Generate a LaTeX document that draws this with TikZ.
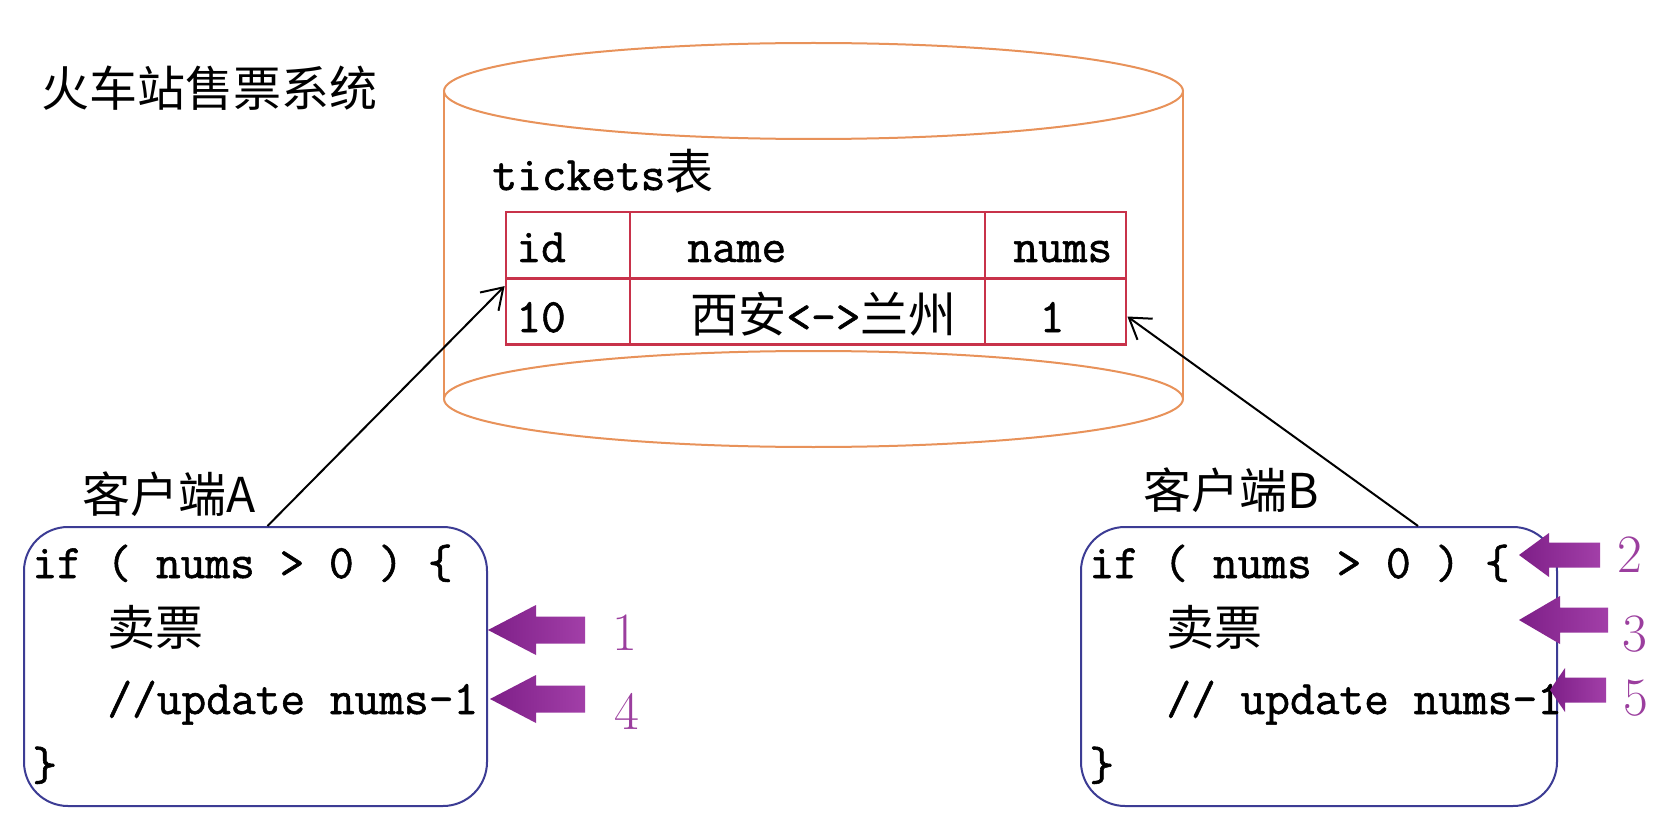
\documentclass[tikz,border=0pt]{standalone}
\usepackage{fontspec}
\newfontfamily\cjk{Noto Sans CJK SC}
\newfontfamily\codefont{Latin Modern Mono}[FakeBold=1.2]
\usetikzlibrary{arrows.meta,calc}
\definecolor{cylc}{HTML}{E8925A}
\definecolor{tblc}{HTML}{C8324A}
\definecolor{boxc}{HTML}{3C3C94}
\definecolor{purdark}{HTML}{7E1F88}
\definecolor{purlight}{HTML}{A23FA8}
\definecolor{lblc}{HTML}{9B3E9E}
\newcommand\blockarrow[7]{% tipx tipy headx tailx headhalf shafthalf name
  \shade[left color=purdark,right color=purlight] (#1,#2) -- (#3,#2-#5) -- (#3,#2-#6) -- (#4,#2-#6) -- (#4,#2+#6) -- (#3,#2+#6) -- (#3,#2+#5) -- cycle;
  \coordinate (#7) at (#1,#2);}
\begin{document}
\begin{tikzpicture}[x=0.5pt,y=-0.5pt,
  cyl/.style={draw=cylc,line width=1pt},
  cell/.style={draw=tblc,line width=1.4pt,minimum height=33pt,inner sep=0pt},
  codebox/.style={draw=boxc,line width=1pt,rounded corners=22pt,minimum height=139.5pt,inner sep=0pt},
  code/.style={anchor=base west,inner sep=0pt,font=\codefont\fontsize{24}{28}\selectfont},
  cjktxt/.style={anchor=base west,inner sep=0pt,font=\cjk\fontsize{24}{28}\selectfont},
  link/.style={draw=black,line width=1pt,-{Straight Barb[length=10pt,width=13pt]}},
  num/.style={text=lblc,inner sep=0pt,font=\fontsize{27}{30}\selectfont}]
\useasboundingbox (0,0) rectangle (1678,840);
\fill[white] (0,0) rectangle (1678,840);
% title
\node[cjktxt] (title) at (41,107) {火车站售票系统};
% cylinder
\draw[cyl] (813.5,91) ellipse [x radius=184.75pt,y radius=24pt];
\draw[cyl] (813.5,399) ellipse [x radius=184.75pt,y radius=24pt];
\draw[cyl] (444,91) -- (444,399);
\draw[cyl] (1183,91) -- (1183,399);
% table
\node[anchor=base west,inner sep=0pt] (ttl) at (492,190) {\codefont\fontsize{24}{28}\selectfont tickets{\cjk 表}};
\node[cell,minimum width=62pt] (h1) at (568,245) {};
\node[cell,minimum width=177.5pt] (h2) at (807.5,245) {};
\node[cell,minimum width=70.5pt] (h3) at (1055.5,245) {};
\node[cell,minimum width=62pt] (r1) at (568,311.5) {};
\node[cell,minimum width=177.5pt] (r2) at (807.5,311.5) {};
\node[cell,minimum width=70.5pt] (r3) at (1055.5,311.5) {};
\node[code] (tid) at (516,262) {id};
\node[code] (tname) at (687,262) {name};
\node[code] (tnums) at (1013,262) {nums};
\node[code] (v10) at (516,332) {10};
\node[anchor=base west,inner sep=0pt] (vname) at (690,332) {\cjk\fontsize{24}{28}\selectfont 西安{\codefont <->}兰州};
\node[code,anchor=base] (v1) at (1052,332) {1};
% boxes
\node[codebox,minimum width=231.5pt] (boxA) at (255.5,666.5) {};
\node[codebox,minimum width=238pt] (boxB) at (1319,666.5) {};
\node[cjktxt] (labA) at (82,512) {客户端A};
\node[cjktxt] (labB) at (1143,508) {客户端B};
% code A
\node[code] (a1) at (32,578) {if ( nums > 0 ) \{};
\node[cjktxt] (a2) at (107,645) {卖票};
\node[code] (a3) at (107,714) {//update nums-1};
\node[code] (a4) at (32,780) {\}};
% code B
\node[code] (b1) at (1089,578) {if ( nums > 0 ) \{};
\node[cjktxt] (b2) at (1166,645) {卖票};
\node[code] (b3) at (1166,714) {// update nums-1};
\node[code] (b4) at (1089,780) {\}};
% connectors
\draw[link] ([xshift=6pt]boxA.north) -- ($(r1.north west)+(0,9)$);
\draw[link] ([xshift=49.5pt]boxB.north) -- ($(r3.east)+(0,5)$);
% purple arrows
\blockarrow{488}{630}{536}{585}{25}{13.5}{p1}
\blockarrow{490}{699}{536}{585}{24}{13.5}{p4}
\blockarrow{1519}{555}{1549}{1600}{22}{12.5}{p2}
\blockarrow{1519}{620}{1560}{1608}{24}{12.5}{p3}
\blockarrow{1550}{690}{1565}{1606}{22}{12.5}{p5}
\node[num] (n1) at (625,633) {1};
\node[num] (n4) at (627,711) {4};
\node[num] (n2) at (1630,555) {2};
\node[num] (n3) at (1635,634) {3};
\node[num] (n5) at (1636,698) {5};
\end{tikzpicture}
\end{document}
